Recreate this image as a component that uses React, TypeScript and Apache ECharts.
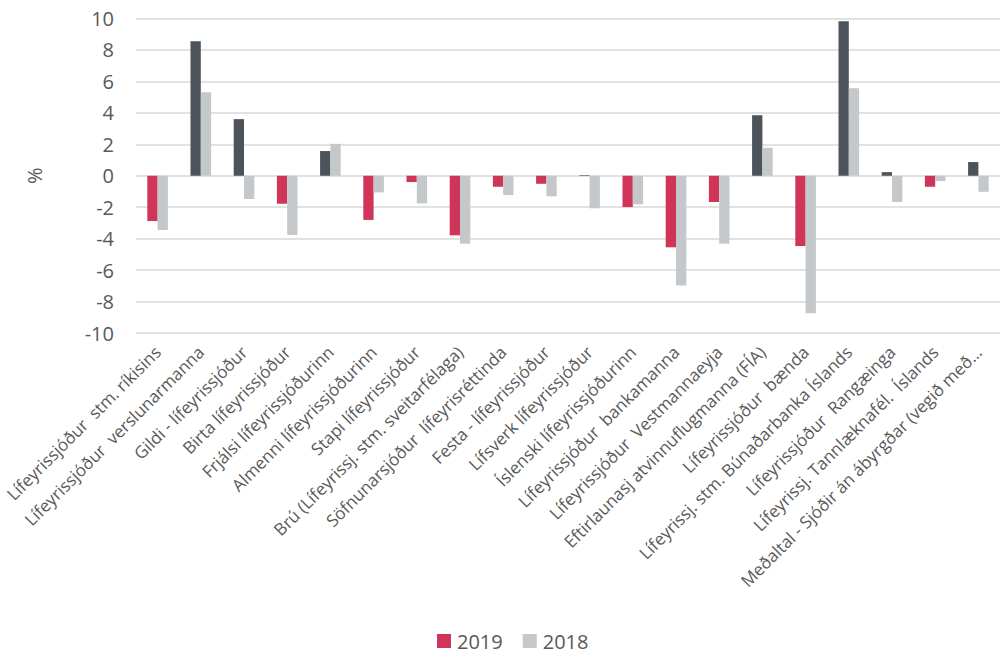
import React, { useEffect, useRef } from "react";
import * as echarts from "echarts";

const categories = [
  "Lífeyrissjóður  stm. ríkisins",
  "Lífeyrissjóður  verslunarmanna",
  "Gildi - lífeyrissjóður",
  "Birta lífeyrissjóður",
  "Frjálsi lífeyrissjóðurinn",
  "Almenni lífeyrissjóðurinn",
  "Stapi lífeyrissjóður",
  "Brú (Lífeyrissj. stm. sveitarfélaga)",
  "Söfnunarsjóður  lífeyrisréttinda",
  "Festa - lífeyrissjóður",
  "Lífsverk lífeyrissjóður",
  "Íslenski lífeyrissjóðurinn",
  "Lífeyrissjóður  bankamanna",
  "Lífeyrissjóður  Vestmannaeyja",
  "Eftirlaunasj atvinnuflugmanna (FÍA)",
  "Lífeyrissjóður  bænda",
  "Lífeyrissj. stm. Búnaðarbanka Íslands",
  "Lífeyrissjóður  Rangæinga",
  "Lífeyrissj. Tannlæknafél.  Íslands",
  "Meðaltal - Sjóðir án ábyrgðar (vegið með…",
];

const values2019 = [-2.88, 8.55, 3.6, -1.78, 1.57, -2.81, -0.4, -3.79, -0.7, -0.51, 0.04, -1.99, -4.55, -1.67, 3.85, -4.47, 9.82, 0.23, -0.7, 0.87];
const values2018 = [-3.45, 5.31, -1.48, -3.77, 2.03, -1.06, -1.76, -4.32, -1.23, -1.31, -2.07, -1.82, -6.98, -4.32, 1.78, -8.74, 5.57, -1.67, -0.34, -1.02];

const yTicks = [-10, -8, -6, -4, -2, 0, 2, 4, 6, 8, 10];

const RED = "#CE3558";
const DARK = "#4D535A";
const LIGHT = "#C4C8CB";
const TEXT = "#595959";
const FONT = "'Open Sans', sans-serif";

export default function App() {
  const ref = useRef<HTMLDivElement>(null);
  useEffect(() => {
    if (!ref.current) return;
    const chart = echarts.init(ref.current, undefined, { renderer: "svg" });
    chart.setOption({
      animation: false,
      textStyle: { fontFamily: FONT, color: TEXT },
      grid: { left: 136, top: 18.5, width: 867, bottom: 322, containLabel: false },
      legend: {
        top: 631,
        left: 437,
        itemWidth: 14,
        itemHeight: 14,
        itemGap: 20,
        icon: "rect",
        padding: 0,
        textStyle: { fontSize: 20, color: TEXT, fontFamily: FONT, padding: [0, 0, 0, 1] },
        data: [
          { name: "2019", itemStyle: { color: RED } },
          { name: "2018", itemStyle: { color: LIGHT } },
        ],
      },
      xAxis: {
        type: "category",
        data: categories,
        position: "bottom",
        axisLine: { show: false, onZero: false },
        axisTick: { show: false },
        axisLabel: {
          rotate: 45,
          interval: 0,
          margin: 16,
          fontSize: 17,
          color: TEXT,
          fontFamily: FONT,
        },
      },
      yAxis: {
        type: "value",
        min: yTicks[0],
        max: yTicks[yTicks.length - 1],
        interval: 2,
        name: "%",
        nameLocation: "middle",
        nameRotate: 90,
        nameGap: 92,
        nameTextStyle: { fontSize: 20, color: TEXT, fontFamily: FONT },
        axisLine: { show: false },
        axisTick: { show: false },
        axisLabel: { fontSize: 20, color: TEXT, margin: 22, fontFamily: FONT },
        splitLine: { lineStyle: { color: "#D9D9D9", width: 1.5 } },
      },
      series: [
        {
          name: "2019",
          type: "bar",
          barWidth: 10.3,
          barGap: "0%",
          itemStyle: { color: RED },
          data: values2019.map((v) => (v >= 0 ? { value: v, itemStyle: { color: DARK } } : { value: v })),
        },
        {
          name: "2018",
          type: "bar",
          barWidth: 10.3,
          barGap: "0%",
          itemStyle: { color: LIGHT },
          data: values2018,
        },
      ],
    });
    return () => chart.dispose();
  }, []);
  return <div ref={ref} style={{ width: 1000, height: 655, position: "absolute", left: 0, top: 0 }} />;
}
